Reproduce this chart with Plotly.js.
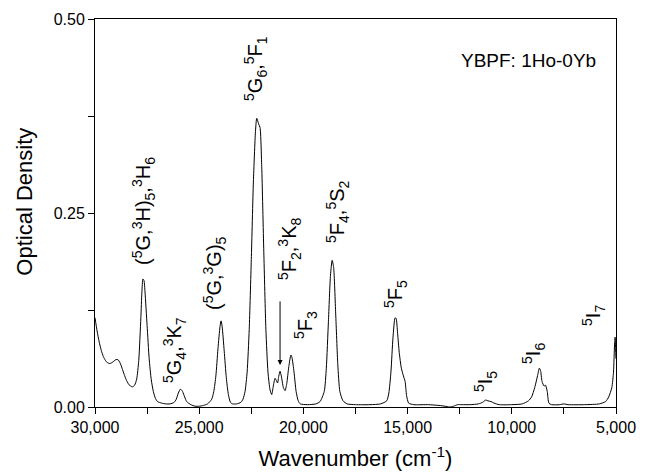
<!DOCTYPE html>
<html>
<head>
<meta charset="utf-8">
<script src="https://cdn.plot.ly/plotly-3.0.1.min.js"></script>
<style>html,body{margin:0;padding:0;background:#fff;}#chart{width:646px;height:473px;}</style>
</head>
<body>
<div id="chart"></div>
<script>
// Wavenumber (cm^-1)
var wavenumber = [30000,29900,29800,29700,29600,29500,29400,29300,29200,29100,29000,28900,28800,28700,28600,28500,28400,28300,28200,28100,28000,27900,27800,27750,27700,27650,27600,27500,27400,27300,27200,27100,27000,26800,26600,26400,26200,26100,26000,25900,25800,25700,25600,25400,25200,25000,24800,24600,24400,24300,24200,24100,24000,23950,23900,23800,23700,23600,23500,23400,23200,23000,22900,22800,22700,22600,22500,22400,22300,22240,22150,22080,22000,21900,21800,21700,21600,21520,21450,21360,21300,21240,21180,21120,21060,20960,20880,20800,20700,20600,20550,20450,20350,20250,20150,19800,19400,19200,19000,18900,18800,18700,18620,18550,18450,18350,18250,18100,17900,17500,16800,16300,16000,15900,15800,15700,15600,15550,15480,15400,15300,15200,15120,15050,14950,14700,14000,13500,13200,13000,12800,12600,12400,12000,11600,11400,11250,11150,11000,10850,10600,10000,9500,9200,9050,8900,8750,8680,8620,8550,8450,8380,8300,8220,8100,7700,7500,7300,6500,5800,5500,5350,5200,5120,5070,5040,5020,5000];
// Optical density
var opticalDensity = [0.115,0.098,0.084,0.073,0.065,0.060,0.057,0.056,0.057,0.059,0.061,0.061,0.057,0.050,0.042,0.035,0.030,0.027,0.026,0.028,0.036,0.060,0.115,0.148,0.165,0.163,0.148,0.105,0.062,0.035,0.020,0.011,0.007,0.005,0.004,0.004,0.006,0.010,0.018,0.023,0.020,0.013,0.007,0.003,0.001,0.001,0.002,0.004,0.010,0.020,0.040,0.075,0.104,0.111,0.104,0.072,0.038,0.016,0.006,0.004,0.004,0.006,0.010,0.020,0.045,0.100,0.190,0.290,0.355,0.372,0.365,0.360,0.310,0.200,0.100,0.045,0.022,0.016,0.026,0.037,0.034,0.031,0.040,0.046,0.040,0.025,0.021,0.030,0.052,0.067,0.064,0.045,0.020,0.008,0.004,0.003,0.004,0.007,0.020,0.050,0.110,0.170,0.189,0.180,0.120,0.055,0.020,0.008,0.004,0.003,0.003,0.004,0.008,0.018,0.045,0.090,0.115,0.114,0.095,0.070,0.050,0.040,0.033,0.015,0.005,0.003,0.003,0.002,0.001,0.000,0.001,0.003,0.003,0.003,0.004,0.006,0.009,0.008,0.007,0.005,0.003,0.003,0.004,0.008,0.013,0.025,0.042,0.050,0.047,0.033,0.027,0.028,0.020,0.005,0.003,0.003,0.004,0.003,0.003,0.004,0.007,0.013,0.025,0.045,0.080,0.090,0.075,0.062];

var xTickVals = [30000,25000,20000,15000,10000,5000];
var xTickText = ['30,000','25,000','20,000','15,000','10,000','5,000'];
var yTickVals = [0,0.25,0.5];
var yTickText = ['0.00','0.25','0.50'];

var transitionLabels = [
  '(<sup>5</sup>G,<sup>3</sup>H)<sub>5</sub>,<sup>3</sup>H<sub>6</sub>',
  '<sup>5</sup>G<sub>4</sub>,<sup>3</sup>K<sub>7</sub>',
  '(<sup>5</sup>G,<sup>3</sup>G)<sub>5</sub>',
  '<sup>5</sup>G<sub>6</sub>,<sup>5</sup>F<sub>1</sub>',
  '<sup>5</sup>F<sub>2</sub>,<sup>3</sup>K<sub>8</sub>',
  '<sup>5</sup>F<sub>3</sub>',
  '<sup>5</sup>F<sub>4</sub>,<sup>5</sup>S<sub>2</sub>',
  '<sup>5</sup>F<sub>5</sub>',
  '<sup>5</sup>I<sub>5</sub>',
  '<sup>5</sup>I<sub>6</sub>',
  '<sup>5</sup>I<sub>7</sub>'
];
var sampleLabel = 'YBPF: 1Ho-0Yb';

// label placement (layout, not data)
var labelPos = [
  [27650,0.2526],[26160,0.0735],[24240,0.1727],[22275,0.4369],[20690,0.2036],
  [19875,0.1057],[18340,0.2526],[15605,0.1456],[11286,0.0322],[8935,0.0696],[6056,0.1186]
];

var FONT = 'Liberation Sans, Arial, sans-serif';
var annotations = transitionLabels.map(function(t,i){
  return {x:labelPos[i][0], y:labelPos[i][1], xref:'x', yref:'y', text:t, showarrow:false,
    textangle:-90, xanchor:'center', yanchor:'middle', font:{family:FONT,size:20,color:'#000'}};
});
annotations.push({x:5864, y:0.446, xref:'x', yref:'y', text:sampleLabel, showarrow:false,
  xanchor:'right', yanchor:'middle', font:{family:FONT,size:19,color:'#000'}});
annotations.push({x:21120, y:0.054, xref:'x', yref:'y', ax:21120, ay:0.138, axref:'x', ayref:'y',
  text:'', showarrow:true, arrowhead:2, arrowsize:1, arrowwidth:1, arrowcolor:'#000', standoff:0});
annotations.push({x:-0.136, y:0.5296, xref:'paper', yref:'paper', text:'Optical Density', showarrow:false,
  textangle:-90, xanchor:'center', yanchor:'middle', font:{family:FONT,size:22,color:'#000'}});

var trace = {x:wavenumber, y:opticalDensity, type:'scatter', mode:'lines',
  line:{color:'#000', width:1, shape:'spline', smoothing:0.6}, hoverinfo:'skip'};

var layout = {
  width:646, height:473,
  margin:{l:95, r:30, t:19, b:66},
  paper_bgcolor:'#fff', plot_bgcolor:'#fff',
  showlegend:false,
  font:{family:FONT, color:'#000'},
  xaxis:{range:[30000,5000], autorange:false, tickvals:xTickVals, ticktext:xTickText,
    ticks:'outside', ticklen:6, tickwidth:1, tickcolor:'#000',
    minor:{dtick:2500, tick0:0, ticks:'outside', ticklen:6, tickwidth:1, tickcolor:'#000', showgrid:false},
    showgrid:false, zeroline:false, showline:true, linecolor:'#000', linewidth:1, mirror:true,
    tickfont:{family:FONT,size:16,color:'#000'},
    title:{text:'Wavenumber (cm<sup>-1</sup>)', font:{family:FONT,size:22,color:'#000'}, standoff:15}},
  yaxis:{range:[0,0.5], autorange:false, tickvals:yTickVals, ticktext:yTickText,
    ticks:'outside', ticklen:6, tickwidth:1, tickcolor:'#000',
    minor:{dtick:0.125, tick0:0, ticks:'outside', ticklen:6, tickwidth:1, tickcolor:'#000', showgrid:false},
    showgrid:false, zeroline:false, showline:true, linecolor:'#000', linewidth:1, mirror:true,
    tickfont:{family:FONT,size:16,color:'#000'}},
  annotations:annotations
};

Plotly.newPlot('chart',[trace],layout,{staticPlot:true, displayModeBar:false});
</script>
</body>
</html>
